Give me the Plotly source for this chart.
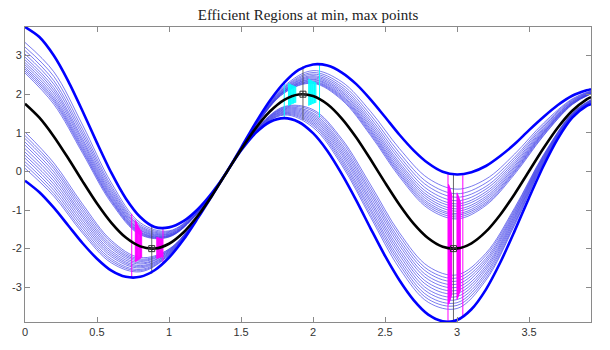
import plotly.graph_objects as go

# ---- data ----
X = [0, 0.1, 0.2, 0.3, 0.4, 0.5, 0.6, 0.7, 0.8, 0.9, 1.0, 1.1, 1.2, 1.3, 1.4, 1.5, 1.6, 1.7, 1.8, 1.9, 2.0,
     2.1, 2.2, 2.3, 2.4, 2.5, 2.6, 2.7, 2.8, 2.9, 3.0, 3.1, 3.2, 3.3, 3.4, 3.5, 3.6, 3.7, 3.8, 3.9, 3.93]
Y_MEAN = [1.755, 1.393, 0.907, 0.340, -0.258, -0.832, -1.333, -1.714, -1.942, -1.997, -1.873, -1.582, -1.150,
          -0.615, -0.025, 0.567, 1.109, 1.551, 1.855, 1.993, 1.953, 1.739, 1.369, 0.878, 0.307, -0.291, -0.862,
          -1.358, -1.731, -1.950, -1.994, -1.861, -1.561, -1.122, -0.583, 0.009, 0.600, 1.138, 1.572, 1.867, 1.924]
Y_UPPER = [3.74, 3.48, 3.00, 2.34, 1.56, 0.74, -0.04, -0.70, -1.18, -1.44, -1.45, -1.29, -0.98, -0.55, -0.02,
           0.61, 1.25, 1.83, 2.30, 2.63, 2.77, 2.74, 2.56, 2.26, 1.86, 1.41, 0.95, 0.54, 0.21, -0.01, -0.08,
           -0.02, 0.14, 0.40, 0.71, 1.07, 1.41, 1.72, 1.96, 2.10, 2.13]
Y_LOWER = [-0.24, -0.54, -0.94, -1.40, -1.86, -2.26, -2.57, -2.73, -2.73, -2.56, -2.23, -1.77, -1.21, -0.62,
           -0.02, 0.54, 0.99, 1.28, 1.38, 1.28, 0.99, 0.53, -0.07, -0.75, -1.48, -2.19, -2.82, -3.34, -3.71,
           -3.88, -3.85, -3.57, -3.06, -2.36, -1.54, -0.68, 0.14, 0.85, 1.39, 1.70, 1.74]

X_THIN = [0, 0.2, 0.4, 0.6, 0.8, 1.0, 1.2, 1.4, 1.6, 1.8, 2.0, 2.2, 2.4, 2.6, 2.8, 3.0, 3.2, 3.4, 3.6, 3.8, 3.93]
THIN_UPPER = [
    [3.34, 2.58, 1.20, -0.30, -1.33, -1.54, -1.01, -0.02, 1.22, 2.21, 2.61, 2.32, 1.55, 0.59, -0.18, -0.46, -0.20, 0.45, 1.25, 1.88, 2.09],
    [3.22, 2.46, 1.09, -0.38, -1.38, -1.56, -1.02, -0.02, 1.21, 2.18, 2.56, 2.25, 1.46, 0.48, -0.30, -0.58, -0.30, 0.37, 1.20, 1.86, 2.08],
    [3.13, 2.35, 1.00, -0.44, -1.42, -1.58, -1.03, -0.02, 1.21, 2.16, 2.52, 2.19, 1.38, 0.39, -0.39, -0.67, -0.39, 0.31, 1.16, 1.84, 2.07],
    [3.04, 2.26, 0.92, -0.50, -1.45, -1.60, -1.04, -0.02, 1.20, 2.14, 2.48, 2.14, 1.31, 0.31, -0.48, -0.76, -0.46, 0.25, 1.12, 1.82, 2.06],
    [2.96, 2.17, 0.84, -0.55, -1.48, -1.62, -1.05, -0.02, 1.19, 2.12, 2.45, 2.09, 1.25, 0.23, -0.56, -0.84, -0.53, 0.20, 1.09, 1.81, 2.05],
    [2.89, 2.10, 0.78, -0.60, -1.51, -1.63, -1.05, -0.02, 1.19, 2.11, 2.42, 2.05, 1.19, 0.17, -0.63, -0.90, -0.59, 0.15, 1.06, 1.79, 2.04],
    [2.82, 2.03, 0.72, -0.64, -1.53, -1.65, -1.06, -0.02, 1.18, 2.09, 2.39, 2.01, 1.14, 0.11, -0.69, -0.97, -0.65, 0.11, 1.03, 1.78, 2.03],
    [2.76, 1.96, 0.66, -0.68, -1.56, -1.66, -1.06, -0.02, 1.18, 2.08, 2.37, 1.97, 1.09, 0.05, -0.75, -1.03, -0.70, 0.07, 1.01, 1.77, 2.03],
    [2.70, 1.90, 0.61, -0.72, -1.58, -1.67, -1.07, -0.02, 1.18, 2.07, 2.34, 1.94, 1.05, 0.00, -0.81, -1.09, -0.75, 0.03, 0.99, 1.76, 2.02],
    [2.65, 1.85, 0.56, -0.75, -1.60, -1.68, -1.07, -0.02, 1.17, 2.06, 2.32, 1.91, 1.01, -0.05, -0.86, -1.13, -0.80, 0.00, 0.97, 1.75, 2.02],
    [2.60, 1.80, 0.52, -0.78, -1.62, -1.69, -1.08, -0.02, 1.17, 2.04, 2.30, 1.88, 0.97, -0.09, -0.91, -1.18, -0.84, -0.03, 0.94, 1.74, 2.01],
    [2.55, 1.74, 0.47, -0.82, -1.64, -1.70, -1.08, -0.02, 1.17, 2.03, 2.28, 1.85, 0.93, -0.14, -0.96, -1.23, -0.88, -0.07, 0.92, 1.73, 2.01],
]
THIN_LOWER = [
    [0.08, -0.64, -1.60, -2.37, -2.60, -2.17, -1.20, -0.02, 1.01, 1.46, 1.14, 0.16, -1.19, -2.51, -3.39, -3.55, -2.82, -1.39, 0.21, 1.42, 1.77],
    [0.17, -0.57, -1.54, -2.32, -2.57, -2.16, -1.20, -0.02, 1.01, 1.48, 1.19, 0.22, -1.12, -2.42, -3.31, -3.47, -2.76, -1.35, 0.23, 1.43, 1.78],
    [0.25, -0.49, -1.47, -2.27, -2.54, -2.14, -1.20, -0.02, 1.02, 1.50, 1.23, 0.28, -1.04, -2.34, -3.23, -3.40, -2.69, -1.31, 0.25, 1.43, 1.79],
    [0.34, -0.41, -1.40, -2.21, -2.50, -2.13, -1.19, -0.02, 1.02, 1.52, 1.27, 0.34, -0.97, -2.26, -3.14, -3.32, -2.63, -1.26, 0.27, 1.44, 1.79],
    [0.42, -0.33, -1.33, -2.16, -2.47, -2.11, -1.19, -0.02, 1.03, 1.54, 1.31, 0.41, -0.89, -2.17, -3.06, -3.24, -2.56, -1.22, 0.29, 1.45, 1.80],
    [0.50, -0.25, -1.26, -2.11, -2.44, -2.10, -1.19, -0.02, 1.03, 1.56, 1.35, 0.47, -0.81, -2.09, -2.97, -3.16, -2.50, -1.18, 0.31, 1.46, 1.81],
    [0.59, -0.17, -1.19, -2.06, -2.40, -2.08, -1.19, -0.02, 1.04, 1.58, 1.39, 0.53, -0.74, -2.01, -2.89, -3.08, -2.44, -1.14, 0.33, 1.47, 1.82],
    [0.68, -0.09, -1.13, -2.00, -2.37, -2.07, -1.18, -0.02, 1.04, 1.60, 1.43, 0.59, -0.66, -1.92, -2.80, -3.00, -2.37, -1.10, 0.35, 1.47, 1.82],
    [0.76, -0.01, -1.06, -1.95, -2.33, -2.05, -1.18, -0.02, 1.05, 1.62, 1.47, 0.65, -0.58, -1.84, -2.72, -2.92, -2.31, -1.06, 0.37, 1.48, 1.83],
    [0.85, 0.07, -0.99, -1.90, -2.30, -2.04, -1.18, -0.02, 1.05, 1.64, 1.51, 0.71, -0.51, -1.76, -2.63, -2.84, -2.25, -1.02, 0.39, 1.49, 1.84],
    [0.93, 0.14, -0.92, -1.84, -2.27, -2.02, -1.18, -0.02, 1.06, 1.66, 1.56, 0.78, -0.43, -1.67, -2.55, -2.76, -2.18, -0.98, 0.41, 1.50, 1.85],
    [1.02, 0.22, -0.85, -1.79, -2.23, -2.01, -1.17, -0.02, 1.07, 1.68, 1.60, 0.84, -0.35, -1.59, -2.46, -2.68, -2.12, -0.94, 0.43, 1.51, 1.86],
]

EXT_X = [0.88, 1.93, 2.975]
EXT_Y = [-2.0, 2.0, -2.0]
EXT_LO = [-2.65, 1.33, -3.9]
EXT_HI = [-1.43, 2.72, -0.07]

MAG_X = [0.741, 0.958,
         0.766, 0.770, 0.774, 0.778, 0.782, 0.786, 0.790, 0.794, 0.798, 0.802, 0.806, 0.810,
         0.915, 0.919, 0.922, 0.926, 0.929, 0.933, 0.936, 0.940, 0.943, 0.947, 0.950, 0.954,
         2.937, 3.040,
         2.941, 2.943, 2.945, 2.947, 2.949, 2.951, 2.953, 2.955, 2.957, 2.959, 2.961, 2.963,
         3.000, 3.002, 3.004, 3.006, 3.008, 3.010, 3.012, 3.014, 3.016, 3.018, 3.020, 3.022]
MAG_Y0 = [-2.75, -2.38,
          -2.35, -2.34, -2.33, -2.32, -2.31, -2.30, -2.29, -2.28, -2.27, -2.26, -2.24, -2.22,
          -2.26, -2.26, -2.25, -2.25, -2.24, -2.24, -2.23, -2.23, -2.23, -2.22, -2.22, -2.22,
          -3.9, -3.75,
          -3.45, -3.43, -3.41, -3.39, -3.37, -3.35, -3.33, -3.31, -3.28, -3.25, -3.22, -3.19,
          -3.32, -3.30, -3.28, -3.26, -3.24, -3.22, -3.20, -3.18, -3.16, -3.14, -3.12, -3.10]
MAG_Y1 = [-1.10, -1.47,
          -1.25, -1.28, -1.31, -1.34, -1.37, -1.40, -1.43, -1.46, -1.49, -1.51, -1.53, -1.55,
          -1.70, -1.70, -1.71, -1.71, -1.72, -1.72, -1.73, -1.73, -1.74, -1.74, -1.75, -1.75,
          -0.05, -0.10,
          -0.33, -0.35, -0.37, -0.39, -0.41, -0.43, -0.46, -0.49, -0.52, -0.55, -0.58, -0.61,
          -0.55, -0.57, -0.59, -0.61, -0.63, -0.65, -0.67, -0.69, -0.71, -0.73, -0.75, -0.77]

CYAN_X = [1.80, 2.045,
          1.830, 1.834, 1.838, 1.843, 1.847, 1.852, 1.856, 1.861, 1.865, 1.870, 1.875, 1.880,
          1.970, 1.974, 1.979, 1.983, 1.988, 1.992, 1.997, 2.001, 2.006, 2.010, 2.015, 2.020]
CYAN_Y0 = [1.38, 1.40,
           1.70, 1.71, 1.72, 1.72, 1.73, 1.74, 1.75, 1.75, 1.76, 1.77, 1.77, 1.78,
           1.70, 1.71, 1.72, 1.72, 1.73, 1.74, 1.75, 1.75, 1.76, 1.77, 1.77, 1.78]
CYAN_Y1 = [2.34, 2.76,
           2.28, 2.27, 2.27, 2.26, 2.25, 2.24, 2.24, 2.23, 2.22, 2.21, 2.21, 2.20,
           2.40, 2.39, 2.38, 2.37, 2.36, 2.35, 2.34, 2.33, 2.33, 2.32, 2.31, 2.30]

X_TICKS = [0, 0.5, 1, 1.5, 2, 2.5, 3, 3.5]
X_TICK_TEXT = ["0", "0.5", "1", "1.5", "2", "2.5", "3", "3.5"]
Y_TICKS = [-3, -2, -1, 0, 1, 2, 3]
Y_TICK_TEXT = ["-3", "-2", "-1", "0", "1", "2", "3"]
TITLE = "Efficient Regions at min, max points"


def segments(xs, y0s, y1s):
    sx, sy = [], []
    for x, a, b in zip(xs, y0s, y1s):
        sx += [x, x, None]
        sy += [a, b, None]
    return sx, sy


fig = go.Figure()
for ys in THIN_UPPER + THIN_LOWER:
    fig.add_trace(go.Scatter(x=X_THIN, y=ys, mode="lines", hoverinfo="skip",
                             line=dict(color="rgba(60,60,232,0.85)", width=0.8, shape="spline", smoothing=1.0)))

mx, my = segments(MAG_X, MAG_Y0, MAG_Y1)
fig.add_trace(go.Scatter(x=mx, y=my, mode="lines", line=dict(color="#ff00ff", width=1), hoverinfo="skip"))
cx, cy = segments(CYAN_X, CYAN_Y0, CYAN_Y1)
fig.add_trace(go.Scatter(x=cx, y=cy, mode="lines", line=dict(color="#00ffff", width=1), hoverinfo="skip"))
gx, gy = segments(EXT_X, EXT_LO, EXT_HI)
fig.add_trace(go.Scatter(x=gx, y=gy, mode="lines", line=dict(color="#444444", width=0.8), hoverinfo="skip"))

for ys in (Y_UPPER, Y_LOWER):
    fig.add_trace(go.Scatter(x=X, y=ys, mode="lines", line=dict(color="#0000ff", width=2.6, shape="spline", smoothing=0.8)))
fig.add_trace(go.Scatter(x=X, y=Y_MEAN, mode="lines", line=dict(color="#000000", width=2.6, shape="spline", smoothing=0.8)))
fig.add_trace(go.Scatter(x=EXT_X, y=EXT_Y, mode="markers",
                         marker=dict(symbol="square-cross-open", size=6, color="#333333", line=dict(width=1))))

axis_common = dict(showgrid=False, zeroline=False, showline=True, linecolor="#8a8a8a", linewidth=1,
                   ticks="inside", ticklen=5, tickcolor="#8a8a8a", mirror="allticks",
                   tickfont=dict(family="Liberation Sans, Arial", size=11, color="#333333"))
fig.update_layout(
    width=610, height=350,
    margin=dict(l=19, r=19, t=27, b=23),
    paper_bgcolor="white", plot_bgcolor="white",
    showlegend=False,
    title=dict(text=TITLE, x=0.5, xref="paper", xanchor="center", y=1 - 15 / 350, yref="container",
               yanchor="middle", font=dict(family="Liberation Serif, DejaVu Serif", size=15, color="#222222")),
    xaxis=dict(range=[0, 3.93], tickvals=X_TICKS, ticktext=X_TICK_TEXT, **axis_common),
    yaxis=dict(range=[-3.9, 3.74], tickvals=Y_TICKS, ticktext=Y_TICK_TEXT, **axis_common),
)

fig.write_html("out.html")
